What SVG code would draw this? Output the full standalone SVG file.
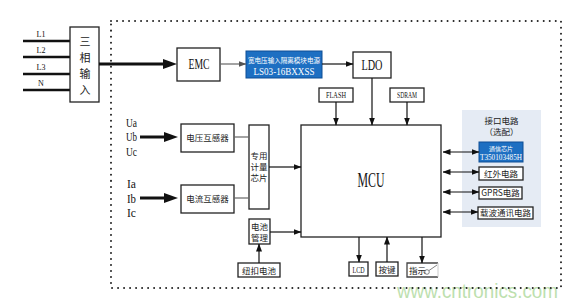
<svg xmlns="http://www.w3.org/2000/svg" width="579" height="307" viewBox="0 0 579 307">
<defs>
<style>
.box{fill:#fff;stroke:#222;stroke-width:1.3}
.blue{fill:#1d6fc2;stroke:#0f4f95;stroke-width:1}
.ln{fill:none;stroke:#111;stroke-width:1.2}
.gl{fill:none;stroke:#666;stroke-width:1.2}
.thick{fill:none;stroke:#111;stroke-width:3}
.ph{fill:none;stroke:#111;stroke-width:2.5}
.dot{fill:none;stroke:#222;stroke-width:2;stroke-dasharray:0.01 6;stroke-linecap:round}
.lat{font-family:"Liberation Serif",serif;fill:#111}
.cjk{font-family:"Noto Sans CJK SC",sans-serif;fill:#222}
.wt{fill:#fff}
.c{text-anchor:middle}
</style>
<marker id="ah" viewBox="0 0 8 6" markerWidth="8" markerHeight="6" refX="7.5" refY="3" orient="auto-start-reverse" markerUnits="userSpaceOnUse"><path d="M0,0L8,3L0,6z" fill="#111"/></marker>
<marker id="ahg" viewBox="0 0 8 6" markerWidth="8" markerHeight="6" refX="7.5" refY="3" orient="auto" markerUnits="userSpaceOnUse"><path d="M0,0L8,3L0,6z" fill="#555"/></marker>
<marker id="big" viewBox="0 0 14 10" markerWidth="14" markerHeight="10" refX="4" refY="5" orient="auto" markerUnits="userSpaceOnUse"><path d="M0,0L14,5L0,10z" fill="#111"/></marker>
</defs>
<rect width="579" height="307" fill="#fff"/>
<text x="397" y="298" font-family="Liberation Sans,sans-serif" font-size="21" fill="#a8d694" opacity="0.75" textLength="161" lengthAdjust="spacingAndGlyphs">www.cntronics.com</text>
<rect id="boundary" class="dot" x="111" y="21" width="450" height="267"/>

<g id="phase-lines">
<line class="ph" x1="23" y1="41" x2="70" y2="41"/>
<line class="ph" x1="23" y1="57" x2="70" y2="57"/>
<line class="ph" x1="23" y1="74" x2="70" y2="74"/>
<line class="ph" x1="23" y1="90" x2="70" y2="90"/>
<g class="lat c" font-size="8" fill="#444">
<text x="41" y="37">L1</text><text x="41" y="53">L2</text><text x="41" y="70">L3</text><text x="41" y="86">N</text>
</g>
</g>

<g id="three-phase-input">
<rect class="box" x="70" y="27" width="29" height="75"/>
<g class="cjk c" font-size="11"><text x="85" y="46">三</text><text x="85" y="62">相</text><text x="85" y="78">输</text><text x="85" y="94">入</text></g>
</g>
<g id="emc"><rect class="box" x="177" y="48" width="43" height="33"/><text class="lat c" x="199" y="69" font-size="14" textLength="21" lengthAdjust="spacingAndGlyphs">EMC</text></g>
<g id="power-module"><rect class="blue" x="246" y="51" width="76" height="27"/>
<text class="cjk wt c" x="284" y="63" font-size="6.4" textLength="72" lengthAdjust="spacingAndGlyphs">宽电压输入隔离模块电源</text>
<text class="lat wt c" x="284" y="75" font-size="11" textLength="61" lengthAdjust="spacingAndGlyphs">LS03-16BXXSS</text></g>
<g id="ldo"><rect class="box" x="353" y="52" width="38" height="26"/><text class="lat c" x="372" y="70" font-size="14" textLength="21" lengthAdjust="spacingAndGlyphs">LDO</text></g>
<g id="flash"><rect class="box" x="319" y="88" width="34" height="14" stroke="#444"/><text class="lat c" x="336" y="98" font-size="8" textLength="20" lengthAdjust="spacingAndGlyphs" fill="#333">FLASH</text></g>
<g id="sdram"><rect class="box" x="390" y="88" width="34" height="14" stroke="#444"/><text class="lat c" x="407" y="98" font-size="8" textLength="20" lengthAdjust="spacingAndGlyphs" fill="#333">SDRAM</text></g>
<g id="mcu"><rect class="box" x="301" y="125" width="140" height="112" stroke="#333"/><text class="lat c" x="371" y="187" font-size="20" textLength="27" lengthAdjust="spacingAndGlyphs">MCU</text></g>

<g class="lat" font-size="12" fill="#333">
<text x="126" y="127" textLength="11" lengthAdjust="spacingAndGlyphs">Ua</text>
<text x="126" y="141" textLength="11" lengthAdjust="spacingAndGlyphs">Ub</text>
<text x="126" y="156" textLength="11" lengthAdjust="spacingAndGlyphs">Uc</text>
<text x="127" y="188" textLength="9" lengthAdjust="spacingAndGlyphs">Ia</text>
<text x="127" y="203" textLength="9" lengthAdjust="spacingAndGlyphs">Ib</text>
<text x="127" y="217" textLength="9" lengthAdjust="spacingAndGlyphs">Ic</text>
</g>
<g id="voltage-transformer"><rect class="box" x="181" y="124" width="53" height="28"/><text class="cjk c" x="207.5" y="141" font-size="8.5">电压互感器</text></g>
<g id="current-transformer"><rect class="box" x="181" y="185" width="53" height="28"/><text class="cjk c" x="207.5" y="202" font-size="8.5">电流互感器</text></g>
<g id="metering-chip"><rect class="box" x="249" y="125" width="20" height="84"/>
<g class="cjk c" font-size="8.5"><text x="259" y="159">专用</text><text x="259" y="170">计量</text><text x="259" y="181">芯片</text></g></g>
<g id="battery-mgmt"><rect class="box" x="249" y="219" width="21" height="25"/>
<g class="cjk c" font-size="8.5"><text x="259.5" y="230">电池</text><text x="259.5" y="241">管理</text></g></g>
<g id="button-cell"><rect class="box" x="238" y="263" width="42" height="14"/><text class="cjk c" x="259" y="273.5" font-size="8.5">纽扣电池</text></g>
<g id="lcd"><rect class="box" x="349" y="262" width="19" height="14" stroke="#444"/><text class="lat c" x="358.5" y="272.5" font-size="8" textLength="12" lengthAdjust="spacingAndGlyphs" fill="#333">LCD</text></g>
<g id="keys"><rect class="box" x="376" y="262" width="22" height="14" stroke="#444"/><text class="cjk c" x="387" y="272.5" font-size="8.5">按键</text></g>
<g id="indicator"><path d="M438,263H407V277H438" fill="#fff" stroke="#444" stroke-width="1.3"/><path d="M438,263V277" stroke="#ccc" stroke-width="1"/>
<text class="cjk" x="409" y="273.5" font-size="8.5">指示</text>
<circle cx="427" cy="272" r="2.3" fill="none" stroke="#666" stroke-width="0.8"/><line x1="429" y1="270.5" x2="437" y2="265" stroke="#666" stroke-width="0.8"/></g>

<g id="interface-panel"><rect x="462" y="110" width="79" height="117" fill="#e5ebf4"/>
<text class="cjk c" x="501.5" y="124" font-size="8.5" fill="#555">接口电路</text>
<text class="cjk c" x="501.5" y="135" font-size="8.5" fill="#555">（选配）</text></g>
<g id="comm-chip"><rect class="blue" x="479" y="142" width="44" height="20"/>
<text class="cjk wt c" x="501" y="151" font-size="6">通信芯片</text>
<text class="lat wt c" x="501" y="159.5" font-size="8.5" textLength="42" lengthAdjust="spacingAndGlyphs">T350103485H</text></g>
<g id="infrared"><rect class="box" x="479" y="167" width="44" height="13"/><text class="cjk c" x="501" y="176.5" font-size="8.5">红外电路</text></g>
<g id="gprs"><rect class="box" x="479" y="187" width="43" height="12"/><text class="cjk c" x="500.5" y="196" font-size="8.5">GPRS电路</text></g>
<g id="plc"><rect class="box" x="478" y="207" width="55" height="12"/><text class="cjk c" x="505.5" y="216" font-size="8.5">载波通讯电路</text></g>

<g id="connectors">
<line class="thick" x1="99" y1="64" x2="167" y2="64" marker-end="url(#big)"/>
<line class="gl" x1="220" y1="64" x2="246" y2="64" marker-end="url(#ahg)"/>
<line class="ln" x1="322" y1="64" x2="353" y2="64" marker-end="url(#ah)"/>
<line class="ln" x1="372" y1="78" x2="372" y2="125" marker-end="url(#ah)"/>
<line class="ln" x1="336" y1="102" x2="336" y2="125" marker-end="url(#ah)"/>
<line class="ln" x1="407" y1="102" x2="407" y2="125" marker-end="url(#ah)"/>
<line class="thick" x1="140" y1="137" x2="168" y2="137" marker-end="url(#big)"/>
<line class="thick" x1="140" y1="198" x2="168" y2="198" marker-end="url(#big)"/>
<line class="gl" x1="234" y1="137" x2="249" y2="137"/>
<line class="gl" x1="234" y1="198" x2="249" y2="198"/>
<line class="ln" x1="269" y1="167" x2="301" y2="167" marker-end="url(#ah)"/>
<line class="ln" x1="270" y1="232" x2="301" y2="232" marker-end="url(#ah)"/>
<line class="ln" x1="259" y1="263" x2="259" y2="244" marker-end="url(#ah)" stroke-width="1.5"/>
<line class="ln" x1="359" y1="237" x2="359" y2="262" marker-end="url(#ah)"/>
<line class="ln" x1="387" y1="262" x2="387" y2="237" marker-end="url(#ah)"/>
<line class="ln" x1="422" y1="237" x2="422" y2="263" marker-end="url(#ah)"/>
<line class="ln" x1="443" y1="152" x2="479" y2="152" marker-start="url(#ah)" marker-end="url(#ah)"/>
<line class="ln" x1="443" y1="172" x2="479" y2="172" marker-start="url(#ah)" marker-end="url(#ah)"/>
<line class="ln" x1="443" y1="192" x2="479" y2="192" marker-start="url(#ah)" marker-end="url(#ah)"/>
<line class="ln" x1="443" y1="212" x2="478" y2="212" marker-start="url(#ah)" marker-end="url(#ah)"/>
</g>
</svg>
